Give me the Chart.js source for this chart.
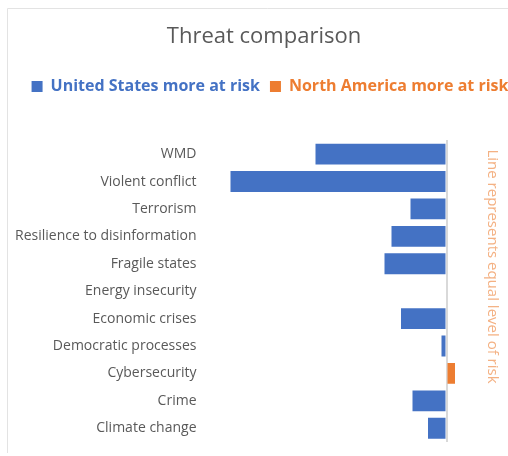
<!DOCTYPE html>
<html>
<head>
<meta charset="utf-8">
<script src="https://cdn.jsdelivr.net/npm/chart.js@4"></script>
<style>
  html, body { margin: 0; padding: 0; background: #fff; overflow: hidden; }
  #wrap { width: 508px; height: 456px; overflow: hidden; position: relative; }
  canvas { display: block; }
</style>
</head>
<body>
<div id="wrap"><canvas id="c" width="528" height="456"></canvas></div>
<script>
const categories = ['WMD', 'Violent conflict', 'Terrorism', 'Resilience to disinformation', 'Fragile states',
  'Energy insecurity', 'Economic crises', 'Democratic processes', 'Cybersecurity', 'Crime', 'Climate change'];
const usMoreAtRisk = [-13.1, -21.6, -3.6, -5.5, -6.2, 0, -4.55, -0.5, 0, -3.4, -1.85];
const naMoreAtRisk = [0, 0, 0, 0, 0, 0, 0, 0, 0.85, 0, 0];
const seriesNames = ['United States more at risk', 'North America more at risk'];
const chartTitle = 'Threat comparison';
const lineNote = 'Line represents equal level of risk';

const FONT = "'Open Sans', 'Noto Sans', sans-serif";
const BLUE = '#4472C4';
const ORANGE = '#ED7D31';

const framePlugin = {
  id: 'frame',
  beforeDraw(chart) {
    const ctx = chart.ctx;
    ctx.save();
    ctx.fillStyle = '#fff';
    ctx.fillRect(0, 0, chart.width, chart.height);
    ctx.strokeStyle = '#E3E3E3';
    ctx.lineWidth = 1;
    ctx.beginPath();
    ctx.moveTo(7.5, 453);
    ctx.lineTo(7.5, 8.5);
    ctx.lineTo(chart.width, 8.5);
    ctx.stroke();
    ctx.restore();
  }
};

const legendShift = {
  id: 'legendShift',
  afterLayout(chart) {
    if (chart.legend) {
      chart.legend.left += 6;
      chart.legend.right += 6;
    }
  }
};

const notePlugin = {
  id: 'note',
  afterDraw(chart) {
    const ctx = chart.ctx;
    ctx.save();
    ctx.translate(492.5, 266.5);
    ctx.rotate(Math.PI / 2);
    ctx.font = "15px " + FONT;
    ctx.fillStyle = '#F4B183';
    ctx.textAlign = 'center';
    ctx.textBaseline = 'middle';
    ctx.fillText(lineNote, 0, 0);
    ctx.restore();
  }
};

new Chart(document.getElementById('c'), {
  type: 'bar',
  data: {
    labels: categories,
    datasets: [
      { label: seriesNames[0], data: usMoreAtRisk, backgroundColor: BLUE, borderWidth: 0 },
      { label: seriesNames[1], data: naMoreAtRisk, backgroundColor: ORANGE, borderWidth: 0 }
    ]
  },
  options: {
    indexAxis: 'y',
    responsive: false,
    animation: false,
    devicePixelRatio: 1,
    layout: { padding: { top: 14, bottom: 14, left: 0, right: 0 } },
    datasets: { bar: { barPercentage: 0.76, categoryPercentage: 1 } },
    scales: {
      x: {
        position: 'top',
        stacked: true,
        min: -24,
        max: 8.15,
        z: 1,
        border: { display: false },
        grid: { color: '#D9D9D9', lineWidth: 2, drawTicks: false },
        ticks: { display: false },
        afterBuildTicks(scale) { scale.ticks = [{ value: 0 }]; },
        afterFit(scale) { scale.height = 36; scale.paddingLeft = 0; scale.paddingRight = 0; }
      },
      y: {
        stacked: true,
        border: { display: false },
        grid: { display: false, drawTicks: false },
        ticks: { color: '#595959', font: { family: FONT, size: 14 }, padding: 10 },
        afterFit(scale) { scale.width = 206.5; scale.paddingTop = 0; scale.paddingBottom = 0; }
      }
    },
    plugins: {
      title: {
        display: true,
        text: chartTitle,
        color: '#595959',
        font: { family: FONT, size: 22, weight: 'normal' },
        padding: { top: 10, bottom: 18 }
      },
      legend: {
        display: true,
        position: 'top',
        labels: {
          boxWidth: 11,
          boxHeight: 11,
          padding: 10,
          font: { family: FONT, size: 16, weight: 'bold' },
          generateLabels(chart) {
            return chart.data.datasets.map((ds, i) => ({
              text: ds.label,
              fillStyle: ds.backgroundColor,
              strokeStyle: ds.backgroundColor,
              fontColor: ds.backgroundColor,
              lineWidth: 0,
              hidden: false,
              datasetIndex: i
            }));
          }
        }
      },
      tooltip: { enabled: false }
    }
  },
  plugins: [framePlugin, legendShift, notePlugin]
});
</script>
</body>
</html>
